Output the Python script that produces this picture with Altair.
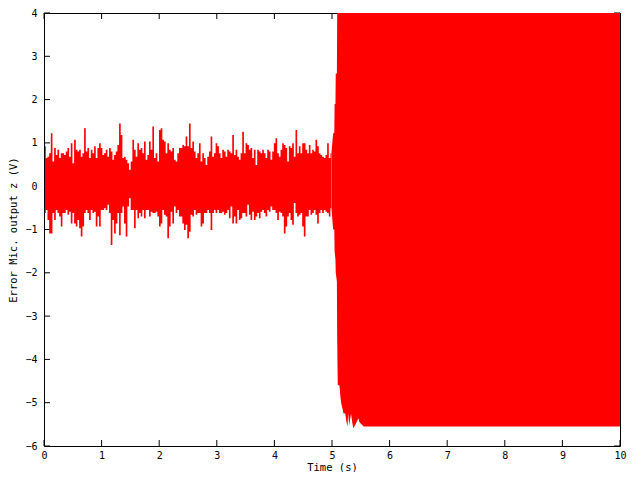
import altair as alt
import pandas as pd

SAMPLE_T0 = 0.017
SAMPLE_DT = 0.0289

noise_hi = [
    0.92, 0.65, 0.68, 0.76, 1.22, 0.57, 0.88, 0.72, 0.84, 0.65,
    0.76, 0.76, 0.72, 0.80, 0.88, 0.68, 0.99, 0.53, 1.07, 0.84,
    0.80, 0.84, 0.68, 0.76, 1.34, 0.80, 0.88, 0.65, 0.84, 0.76,
    0.92, 0.65, 0.88, 0.99, 0.88, 0.72, 0.76, 0.84, 0.68, 0.88,
    0.80, 0.61, 0.72, 0.80, 0.95, 1.45, 1.18, 0.65, 0.68, 0.61,
    0.53, 0.38, 0.57, 1.07, 0.84, 0.68, 0.99, 0.84, 0.88, 0.76,
    1.03, 0.61, 0.72, 1.03, 0.84, 1.38, 0.65, 0.76, 0.57, 1.30,
    1.34, 1.07, 1.03, 0.76, 0.99, 0.84, 0.80, 0.88, 0.61, 0.57,
    0.76, 0.88,
    0.88, 0.95, 0.92, 1.15, 0.92, 1.45, 0.88, 1.03, 0.80, 0.65,
    0.76, 0.99, 0.57, 0.76, 0.65, 0.49, 0.68, 0.80, 1.15, 0.68,
    0.76, 0.99, 0.92, 0.76, 0.65, 0.84, 0.80, 0.68, 0.84, 0.80,
    0.76, 1.18, 0.72, 0.84, 0.68, 0.61, 0.76, 1.26, 0.76, 0.99,
    0.95, 0.84, 0.88, 0.65, 0.84, 0.49, 0.84, 0.80, 0.76, 0.84,
    0.76, 0.65, 0.84, 0.80, 0.61, 0.80, 0.99, 1.11, 0.76, 0.68,
    0.84, 0.99, 0.95, 0.88, 0.57, 0.92, 0.88, 0.99, 0.68, 1.30,
    0.76, 0.92, 0.76, 0.99, 0.99, 0.84, 0.76, 0.95, 0.76, 0.84,
    0.80, 1.07, 0.92, 0.76, 0.72, 0.68, 0.65, 0.72, 0.99, 0.65,
    0.76,
]

noise_lo = [
    -0.62, -0.55, -0.78, -1.09, -1.09, -0.62, -0.78, -0.55, -0.62, -0.70,
    -0.93, -0.62, -0.62, -0.55, -0.66, -0.59, -0.86, -0.62, -0.86, -0.93,
    -0.78, -0.97, -1.16, -0.93, -0.62, -0.55, -0.62, -0.78, -0.55, -0.62,
    -0.59, -0.93, -0.70, -0.93, -0.55, -0.55, -0.51, -0.55, -0.43, -0.62,
    -1.36, -0.78, -1.09, -0.86, -0.62, -1.13, -0.62, -0.47, -0.86, -1.16,
    -0.47, -0.28, -0.55, -0.55, -0.97, -0.55, -0.74, -0.62, -0.70, -0.55,
    -0.74, -0.55, -0.55, -0.70, -0.59, -0.62, -0.62, -0.59, -0.70, -0.93,
    -0.86, -0.55, -0.66, -0.70, -1.20, -0.93, -0.59, -0.86, -0.47, -0.62,
    -0.55, -0.70,
    -0.70, -0.86, -1.01, -0.89, -1.20, -1.05, -0.66, -0.70, -0.55, -0.66,
    -0.62, -0.62, -0.93, -0.86, -0.62, -0.62, -0.55, -0.62, -1.01, -0.62,
    -0.55, -0.62, -0.55, -0.62, -0.62, -0.59, -0.66, -0.62, -0.55, -0.74,
    -0.47, -0.86, -0.70, -0.86, -0.55, -0.78, -0.74, -0.62, -0.62, -0.70,
    -0.43, -0.66, -0.78, -0.59, -0.78, -0.70, -0.62, -0.74, -0.59, -0.55,
    -0.62, -0.70, -0.55, -0.59, -0.47, -0.55, -0.55, -0.62, -0.78, -0.59,
    -0.62, -0.70, -1.09, -0.93, -0.70, -0.62, -0.78, -0.89, -0.39, -0.62,
    -0.70, -0.66, -0.62, -0.93, -1.16, -0.70, -0.70, -0.55, -0.66, -0.62,
    -0.55, -0.66, -0.86, -0.62, -0.55, -0.62, -0.55, -0.59, -0.62, -0.70,
    -0.51,
]

# Envelope of the oscillation after the instability onset (~5.05 s)
onset_t = [4.99, 5.02, 5.04, 5.045, 5.06, 5.065, 5.085, 5.09, 5.10, 5.13,
           5.145, 5.16, 5.18, 5.20, 5.23, 5.25, 5.27, 5.28, 5.30, 5.33,
           5.35, 5.37, 5.40, 5.46, 5.47, 5.55, 10.0]
onset_hi = [0.76, 1.22, 1.23, 1.9, 1.9, 2.6, 2.6] + [4.0] * 20
onset_lo = [-0.51, -1.0, -1.0, -1.5, -1.7, -2.0, -2.2, -3.5, -4.59, -4.6,
            -4.85, -5.01, -5.13, -5.25, -5.25, -5.44, -5.55, -5.25, -5.52, -5.25,
            -5.44, -5.59, -5.52, -5.36, -5.44, -5.55, -5.55]

x_ticks = [0, 1, 2, 3, 4, 5, 6, 7, 8, 9, 10]
y_ticks = [-6, -5, -4, -3, -2, -1, 0, 1, 2, 3, 4]

noise_t = [round(SAMPLE_T0 + SAMPLE_DT * i, 4) for i in range(len(noise_hi))]
noise_df = pd.DataFrame({"t": noise_t, "hi": noise_hi, "lo": noise_lo})
onset_df = pd.DataFrame({"t": onset_t, "hi": onset_hi, "lo": onset_lo})
xt_df = pd.DataFrame({"v": x_ticks})
yt_df = pd.DataFrame({"v": y_ticks})

FONT = "DejaVu Sans Mono"
RED = "#ff0000"
xscale = alt.Scale(domain=[0, 10], nice=False, zero=False)
yscale = alt.Scale(domain=[-6, 4], nice=False, zero=False)

xaxis = alt.Axis(values=x_ticks, format="d", title="Time (s)", domain=False, ticks=False, grid=False,
                 labelFont=FONT, labelFontSize=10, labelPadding=4, labelColor="black",
                 labelFlush=False, labelBaseline="top",
                 titleFont=FONT, titleFontSize=10.5, titleFontWeight="normal", titleColor="black",
                 titleX=288, titleY=24, titleBaseline="alphabetic")
yaxis = alt.Axis(values=y_ticks, format="d", title="Error Mic. output z (V)", domain=False, ticks=False,
                 grid=False, labelFont=FONT, labelFontSize=10, labelPadding=7, labelColor="black",
                 labelFlush=False, labelBaseline="middle",
                 titleFont=FONT, titleFontSize=10.5, titleFontWeight="normal", titleColor="black",
                 titleX=-31, titleY=216.5, titleBaseline="middle", titleAngle=270)

bottom_ticks = alt.Chart(xt_df).mark_rule(color="black", strokeWidth=1, y2Offset=-6).encode(
    x=alt.X("v:Q", scale=xscale, axis=xaxis), y=alt.datum(-6), y2=alt.datum(-6))
top_ticks = alt.Chart(xt_df).mark_rule(color="black", strokeWidth=1, y2Offset=6).encode(
    x=alt.X("v:Q", scale=xscale, axis=xaxis), y=alt.datum(4), y2=alt.datum(4))
left_ticks = alt.Chart(yt_df).mark_rule(color="black", strokeWidth=1, x2Offset=6).encode(
    y=alt.Y("v:Q", scale=yscale, axis=yaxis), x=alt.datum(0), x2=alt.datum(0))
right_ticks = alt.Chart(yt_df).mark_rule(color="black", strokeWidth=1, x2Offset=-6).encode(
    y=alt.Y("v:Q", scale=yscale, axis=yaxis), x=alt.datum(10), x2=alt.datum(10))

noise = alt.Chart(noise_df).mark_area(color=RED, opacity=1, clip=True, interpolate="step").encode(
    x=alt.X("t:Q", scale=xscale, axis=xaxis),
    y=alt.Y("lo:Q", scale=yscale, axis=yaxis),
    y2="hi:Q")

onset = alt.Chart(onset_df).mark_area(color=RED, opacity=1, clip=True).encode(
    x=alt.X("t:Q", scale=xscale, axis=xaxis),
    y=alt.Y("hi:Q", scale=yscale, axis=yaxis),
    y2="lo:Q")

chart = alt.layer(bottom_ticks, top_ticks, left_ticks, right_ticks, noise, onset).properties(
    width=576, height=433,
    padding={"left": 36, "top": 5, "right": 12, "bottom": 26},
    autosize=alt.AutoSizeParams(type="none"),
    background="white",
).configure_view(stroke="black", strokeWidth=1)

chart.save("out.html", embed_options={"renderer": "svg", "actions": False})
